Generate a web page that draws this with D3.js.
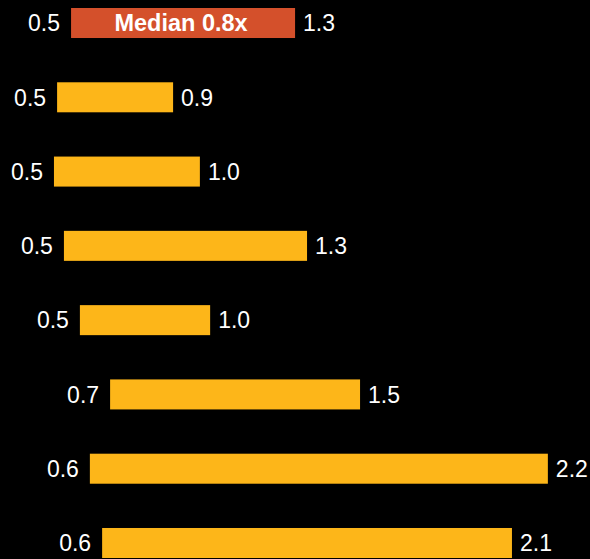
<!DOCTYPE html>
<html lang="en">
<head>
    <meta charset="utf-8">
    <title>Range bars</title>
    <script src="https://cdnjs.cloudflare.com/ajax/libs/d3/7.8.5/d3.min.js"></script>
    <style>
        html, body {
            margin: 0;
            padding: 0;
            background: #000;
        }
        svg {
            display: block;
        }
        .val {
            font: 23px "Liberation Sans", Arial, sans-serif;
            fill: #fff;
        }
        .median {
            font: bold 23.5px "Liberation Sans", Arial, sans-serif;
            fill: #fff;
        }
    </style>
</head>
<body>
<div id="chart"></div>
<script>
    // one row per bar, top to bottom; first row is the median
    var rows = ["median", "r1", "r2", "r3", "r4", "r5", "r6", "r7"];
    var lows = [0.516, 0.467, 0.456, 0.491, 0.547, 0.653, 0.582, 0.625];
    var highs = [1.302, 0.874, 0.968, 1.344, 1.004, 1.530, 2.189, 2.063];
    var medianLabel = "Median 0.8x";

    var width = 590, height = 559;

    var svg = d3.select("#chart").append("svg")
        .attr("width", width)
        .attr("height", height);

    var x = d3.scaleLinear().domain([0.3, 2.3]).range([9.5, 579.5]);

    var y = d3.scaleBand()
        .domain(rows)
        .range([8, 558])
        .paddingInner(0.596)
        .paddingOuter(0);

    var data = rows.map(function(r, i) {
        return { row: r, lo: lows[i], hi: highs[i] };
    });

    var fmt = d3.format(".1f");

    var g = svg.selectAll(".row")
        .data(data)
        .enter().append("g")
        .attr("class", "row");

    g.append("rect")
        .attr("x", function(d) { return x(d.lo); })
        .attr("y", function(d) { return y(d.row); })
        .attr("width", function(d) { return x(d.hi) - x(d.lo); })
        .attr("height", y.bandwidth())
        .attr("fill", function(d, i) { return i === 0 ? "#d4502b" : "#fdb619"; });

    // low value, left of bar
    g.append("text")
        .attr("class", "val")
        .attr("x", function(d) { return x(d.lo) - 11; })
        .attr("y", function(d) { return y(d.row) + y.bandwidth() / 2; })
        .attr("dy", "0.36em")
        .attr("text-anchor", "end")
        .text(function(d) { return fmt(d.lo); });

    // high value, right of bar
    g.append("text")
        .attr("class", "val")
        .attr("x", function(d) { return x(d.hi) + 8; })
        .attr("y", function(d) { return y(d.row) + y.bandwidth() / 2; })
        .attr("dy", "0.36em")
        .text(function(d) { return fmt(d.hi); });

    svg.append("text")
        .attr("class", "median")
        .attr("x", (x(data[0].lo) + x(data[0].hi)) / 2 - 2)
        .attr("y", y(data[0].row) + y.bandwidth() / 2)
        .attr("dy", "0.36em")
        .attr("text-anchor", "middle")
        .text(medianLabel);
</script>
</body>
</html>
